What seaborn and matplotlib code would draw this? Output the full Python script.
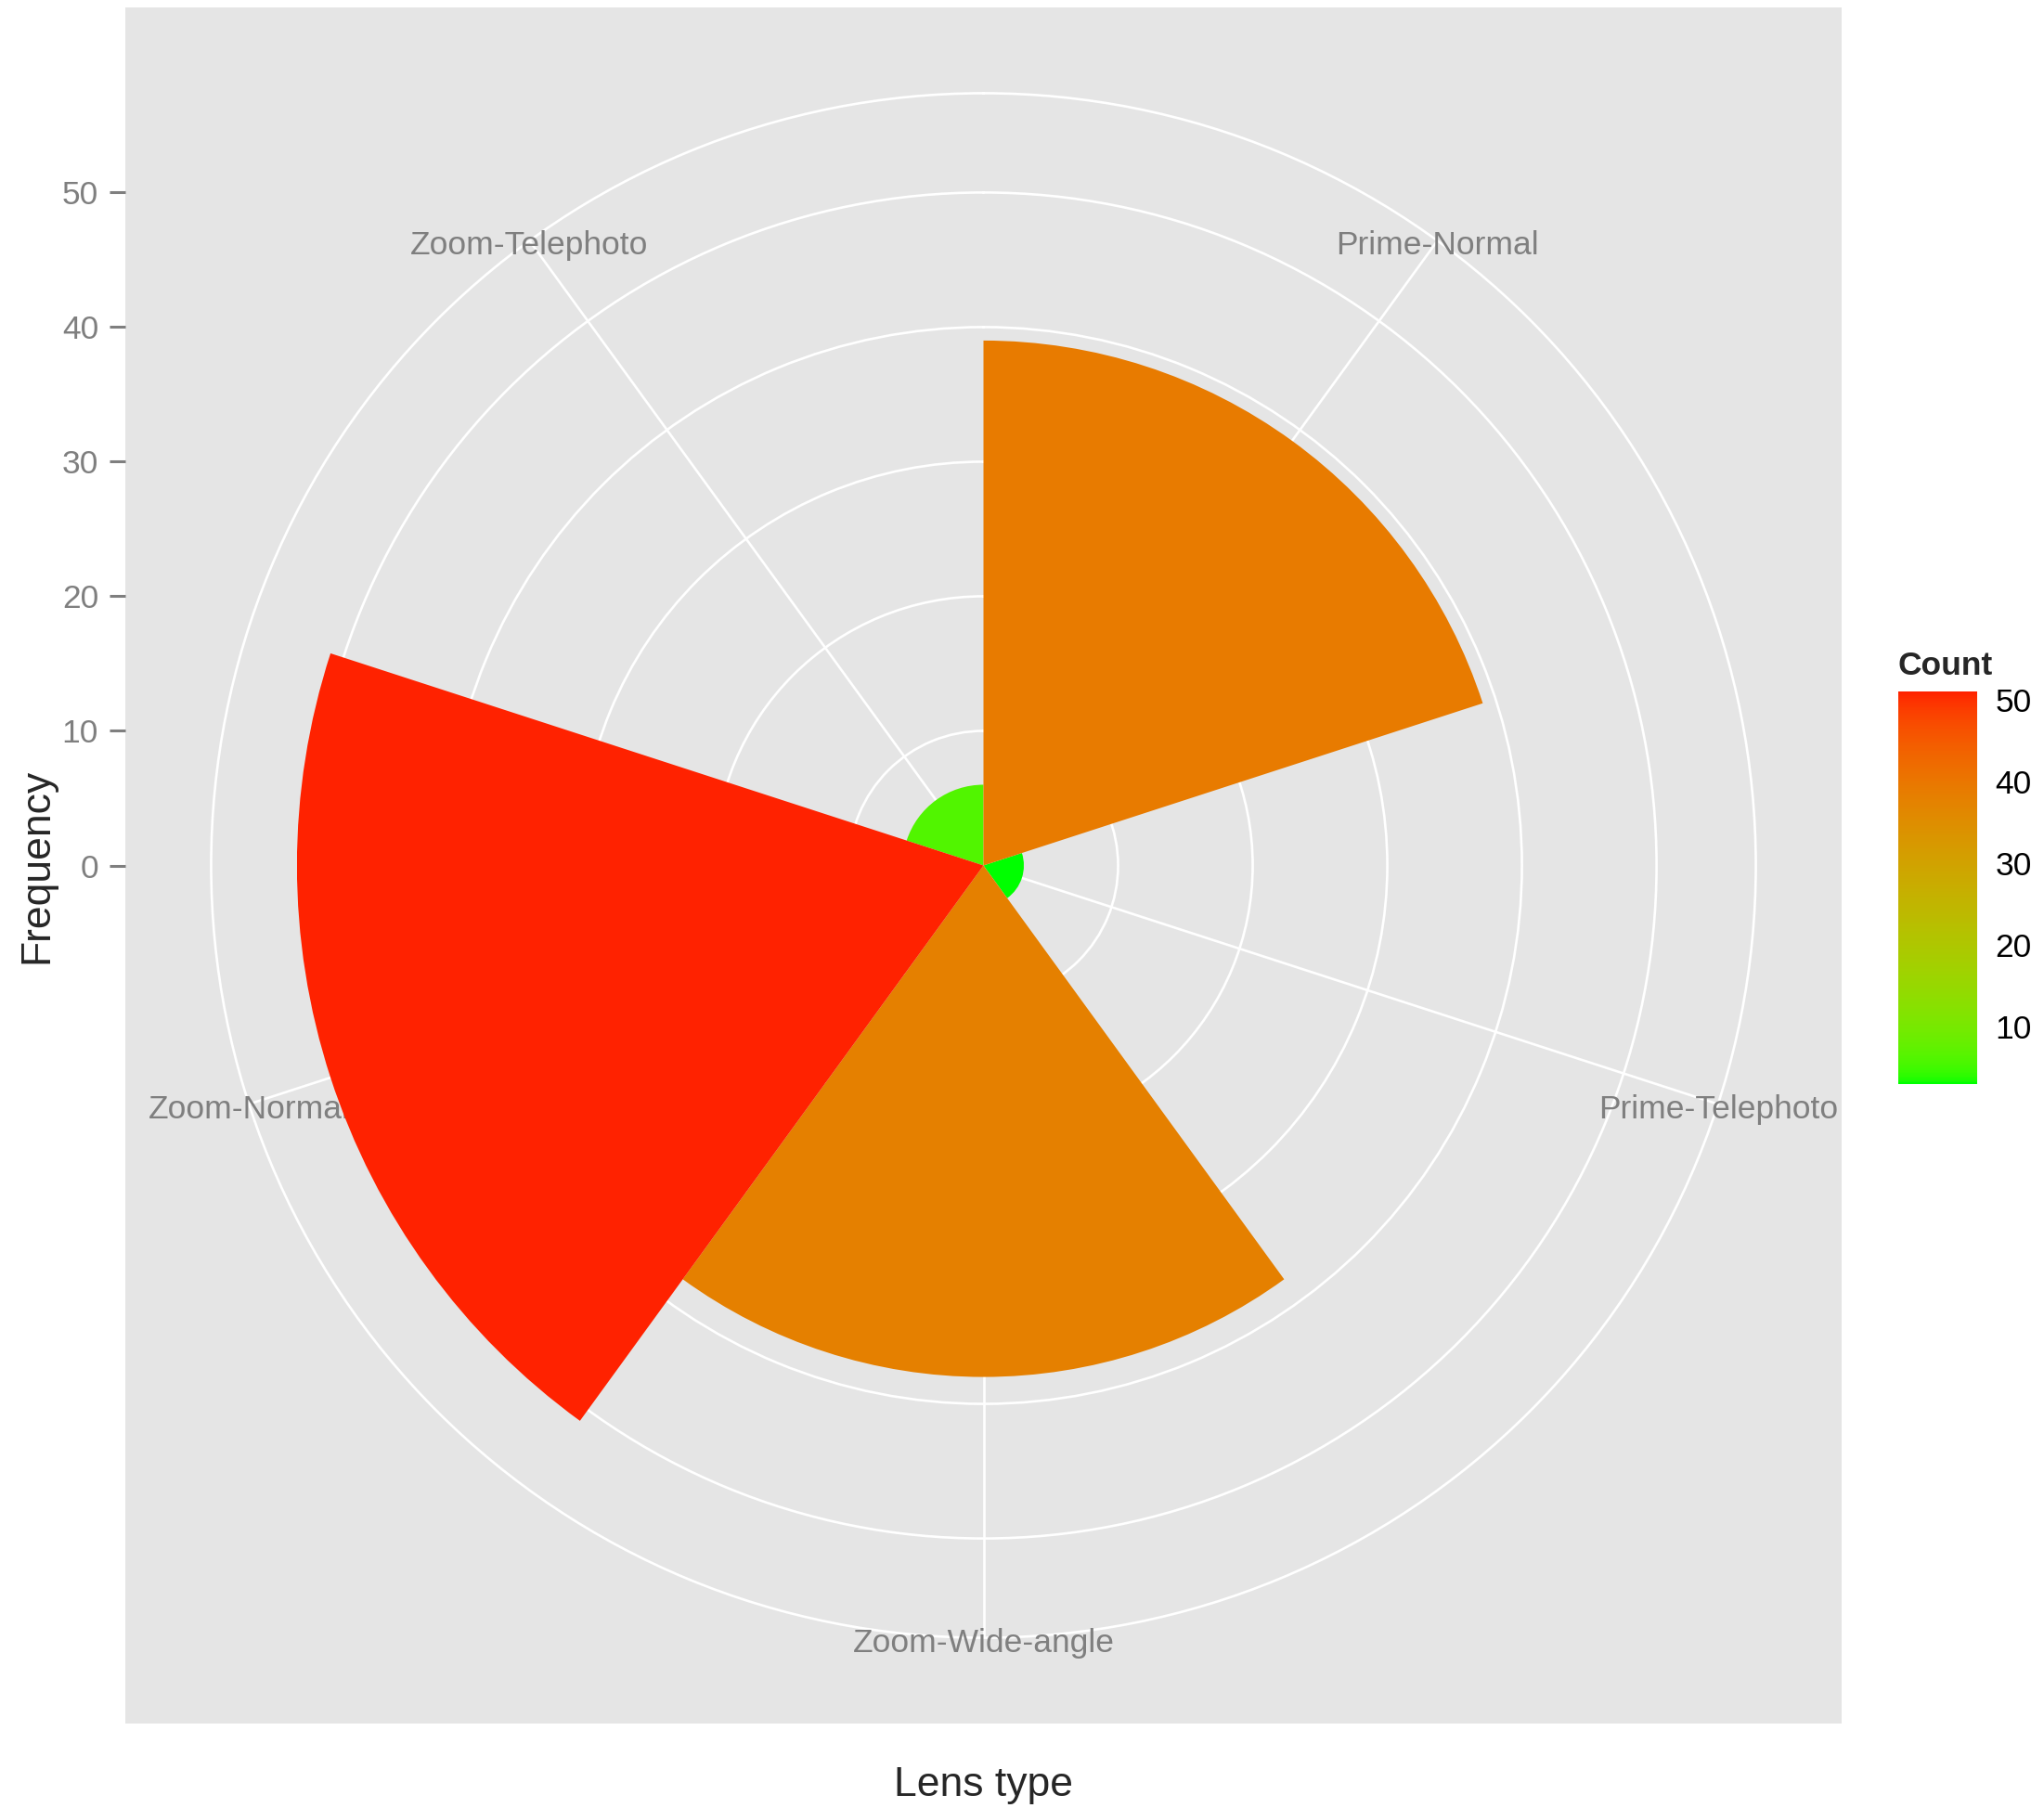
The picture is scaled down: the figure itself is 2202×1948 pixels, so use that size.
import numpy as np
import pandas as pd
import matplotlib
matplotlib.use("Agg")
import matplotlib.pyplot as plt
import matplotlib.colors as mcolors
import matplotlib.cm as cm
import matplotlib.transforms as mtransforms
import seaborn as sns

sns.set_theme(style="white")
plt.rcParams['font.family'] = ['Liberation Sans', 'DejaVu Sans']

# Data
lens_types = ["Prime-Normal", "Prime-Telephoto", "Zoom-Wide-angle", "Zoom-Normal", "Zoom-Telephoto"]
counts = [39, 3, 38, 51, 6]
r_breaks = [0, 10, 20, 30, 40, 50]
legend_breaks = [10, 20, 30, 40, 50]


# --- gradient green -> red interpolated in Lab (like ggplot) ---
def to_lab(c):
    rgb = np.array(mcolors.to_rgb(c))
    lin = np.where(rgb <= 0.04045, rgb / 12.92, ((rgb + 0.055) / 1.055) ** 2.4)
    m = np.array([[0.4124, 0.3576, 0.1805],
                  [0.2126, 0.7152, 0.0722],
                  [0.0193, 0.1192, 0.9505]])
    xyz = m @ lin / np.array([0.95047, 1.0, 1.08883])
    f = np.where(xyz > 0.008856, np.cbrt(xyz), 7.787 * xyz + 16 / 116)
    return np.array([116 * f[1] - 16, 500 * (f[0] - f[1]), 200 * (f[1] - f[2])])


def from_lab(lab):
    fy = (lab[0] + 16) / 116
    fx = fy + lab[1] / 500
    fz = fy - lab[2] / 200
    f = np.array([fx, fy, fz])
    xyz = np.where(f > 0.2069, f ** 3, (f - 16 / 116) / 7.787) * np.array([0.95047, 1.0, 1.08883])
    m = np.array([[3.2406, -1.5372, -0.4986],
                  [-0.9689, 1.8758, 0.0415],
                  [0.0557, -0.2040, 1.0570]])
    lin = np.clip(m @ xyz, 0, 1)
    rgb = np.where(lin <= 0.0031308, 12.92 * lin, 1.055 * lin ** (1 / 2.4) - 0.055)
    return np.clip(rgb, 0, 1)


lab_lo, lab_hi = to_lab("#00FF00"), to_lab("#FF2200")
cmap = mcolors.ListedColormap([from_lab(lab_lo + t * (lab_hi - lab_lo)) for t in np.linspace(0, 1, 256)])
norm = mcolors.Normalize(min(counts), max(counts))

n = len(lens_types)
df = pd.DataFrame({"lens": lens_types, "count": counts})
df["theta"] = (np.arange(n) + 0.5) * 2 * np.pi / n

W, H = 2202, 1948
fig = plt.figure(figsize=(W / 100, H / 100), dpi=100)

# grey panel with the radial axis on the left
pl, pb, ps = 135, 91, 1849
rmax = max(counts)
bg = fig.add_axes([pl / W, pb / H, ps / W, ps / H])
bg.set_facecolor("#E5E5E5")
bg.set_xlim(-1, 1)
bg.set_ylim(-1.25 * rmax, 1.25 * rmax)
bg.set_xticks([])
bg.set_yticks(r_breaks)
bg.set_yticklabels([str(b) for b in r_breaks])
bg.tick_params(axis="y", left=True, length=12.2, width=2.2, color="#7F7F7F",
               labelcolor="#7F7F7F", labelsize=25.5, pad=8.6)
for s in bg.spines.values():
    s.set_visible(False)

# polar part
cx, cy = pl + ps / 2, pb + ps / 2
half = 0.45 * ps
ax = fig.add_axes([(cx - half) / W, (cy - half) / H, 2 * half / W, 2 * half / H], projection="polar")
ax.set_facecolor("none")
ax.set_theta_zero_location("N")
ax.set_theta_direction(-1)
ax.set_axisbelow(True)

sns.barplot(data=df, x="theta", y="count", hue="count", palette=cmap, hue_norm=norm,
            native_scale=True, width=1, dodge=False, legend=False, errorbar=None,
            saturation=1, linewidth=0, ax=ax)
for p in ax.patches:
    p.set_zorder(2)

ax.set_xlim(0, 2 * np.pi)
ax.set_ylim(0, 1.125 * rmax)
ax.set_xticks(df["theta"])
ax.set_xticklabels([])
ax.set_yticks(r_breaks)
ax.set_yticklabels([])
ax.grid(True, color="white", linewidth=1.9)
ax.spines["polar"].set_color("white")
ax.spines["polar"].set_linewidth(1.9)
ax.spines["polar"].set_zorder(0.6)
ax.set_xlabel("")
ax.set_ylabel("")
ax.tick_params(length=0)

# category labels sit on the outer circle, under the bars
lab_tr = mtransforms.offset_copy(ax.transData, fig=fig, x=0, y=-5.5, units="dots")
for t, lab in zip(df["theta"], df["lens"]):
    ax.text(t, 1.125 * rmax, lab, ha="center", va="center", fontsize=25.5,
            color="#7F7F7F", zorder=1.5, transform=lab_tr)

# colour bar legend
cax = fig.add_axes([2045 / W, (H - 1168) / H, 85 / W, 423 / H])
sm = cm.ScalarMappable(norm=norm, cmap=cmap)
cb = fig.colorbar(sm, cax=cax, ticks=legend_breaks)
cb.outline.set_visible(False)
cax.tick_params(direction="in", length=12, width=1.5, color="white", left=True, right=True,
                labelsize=25.5, labelcolor="black", pad=14)
fig.text(2045 / W, (H - 727) / H, "Count", fontsize=25.5, fontweight="bold",
         ha="left", va="baseline")

# axis titles
fig.text(cx / W, (H - 1935) / H, "Lens type", fontsize=32, ha="center", va="baseline")
fig.text(40 / W, cy / H, "Frequency", fontsize=32, rotation=90, ha="center", va="center")

fig.savefig("out.png", dpi=100)
